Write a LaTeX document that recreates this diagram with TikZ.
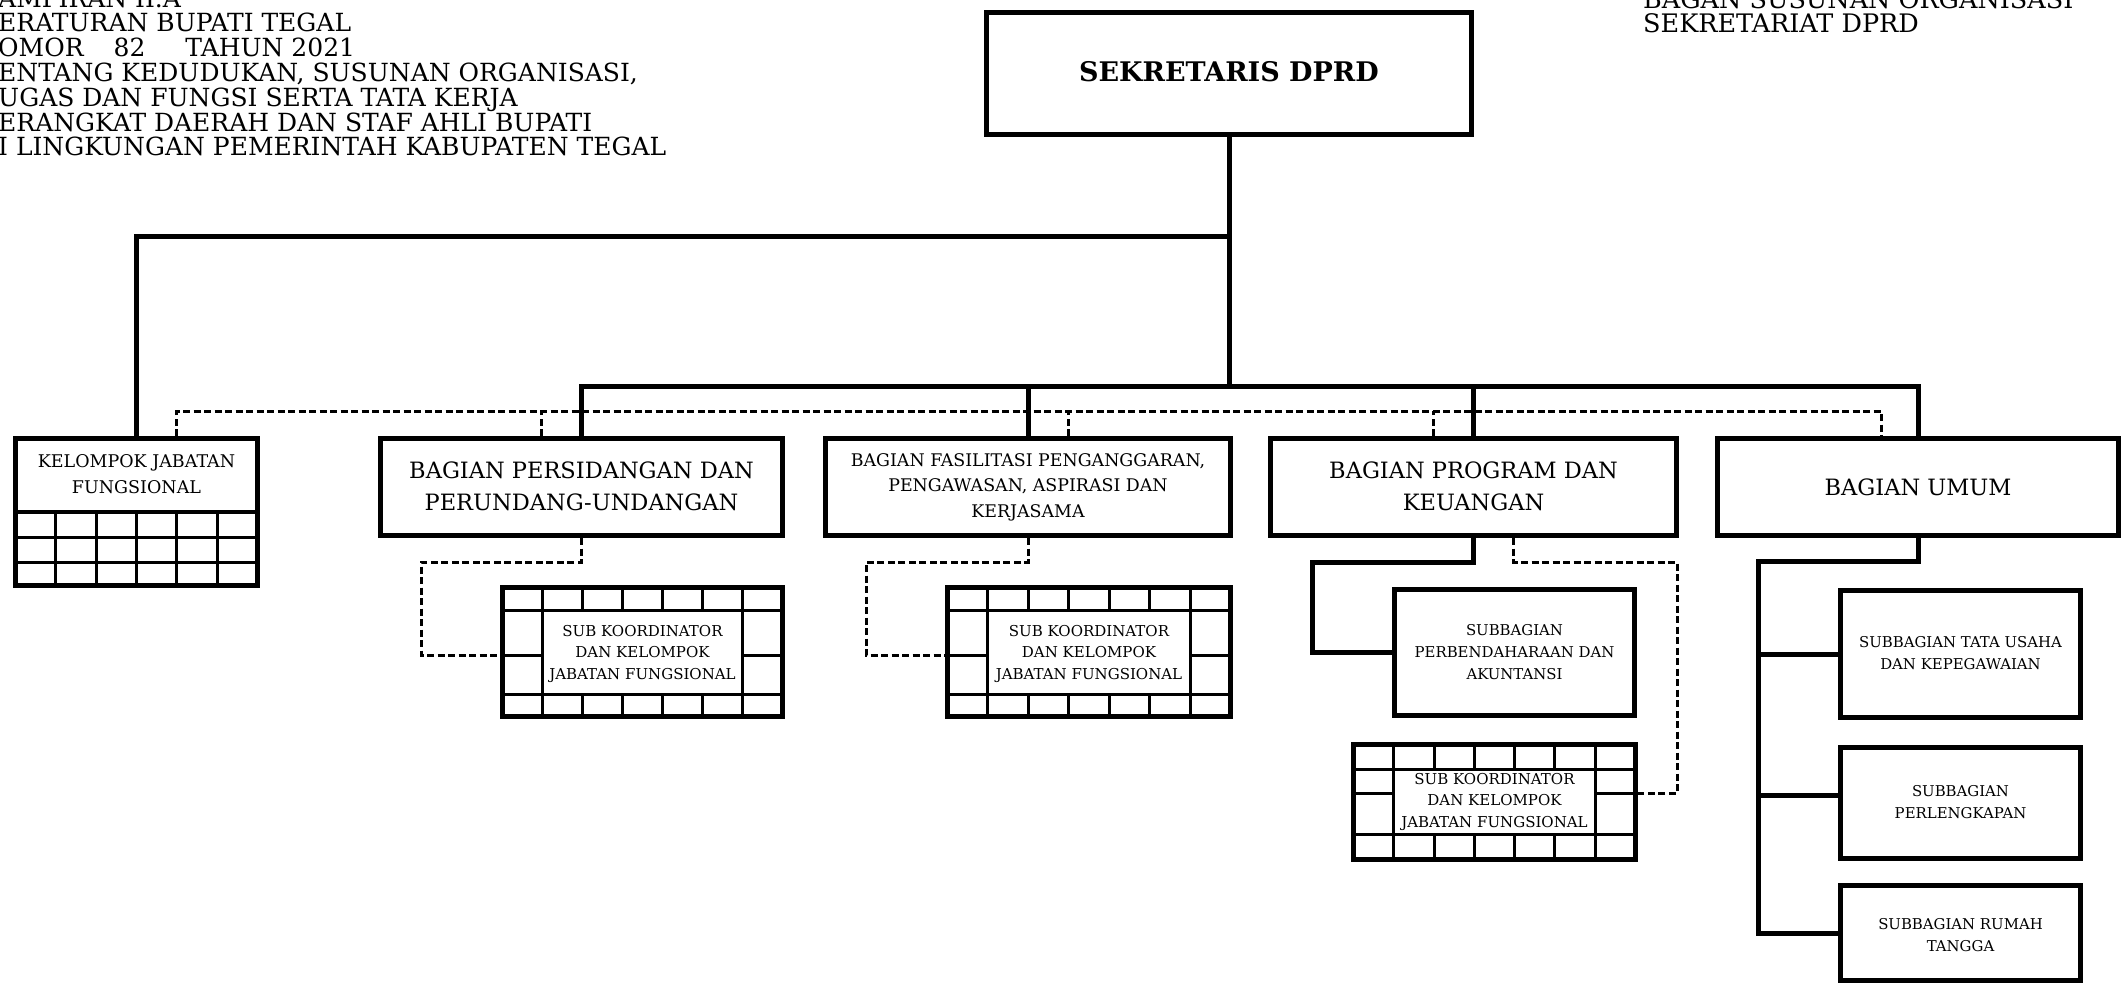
\documentclass[tikz,border=0pt]{standalone}
\usepackage{fontspec}
\setmainfont{DejaVu Serif}
\usetikzlibrary{calc}

% font sizes (1pt = 1 unit of the drawing)
\newcommand\szTitle{\fontsize{25}{24.8}\selectfont}
\newcommand\szHead{\fontsize{27}{28}\selectfont\bfseries}
\newcommand\szBig{\fontsize{22.5}{32}\selectfont}
\newcommand\szFas{\fontsize{17.4}{25.5}\selectfont}
\newcommand\szJf{\fontsize{17.5}{26}\selectfont}
\newcommand\szSk{\fontsize{15}{21.5}\selectfont}
\newcommand\szSub{\fontsize{14.9}{22}\selectfont}

% framed group box with a 7-column grid round a text field
% #1 name, #2 left, #3 top, #4 right, #5 bottom, #6 upper row line, #7 lower row line, #8 side split
\newcommand\koorbox[8]{%
  \node[frame, minimum width={(#4-#2)*1pt}, minimum height={(#5-#3)*1pt}] (#1) at ({(#2+#4)/2},{(#3+#5)/2}) {};
  \draw[gridln] (#2,#6) -- (#4,#6) (#2,#7) -- (#4,#7);
  \foreach \i in {1,...,6} {
    \draw[gridln] ({#2+\i*(#4-#2)/7},#3) -- ({#2+\i*(#4-#2)/7},#6);
    \draw[gridln] ({#2+\i*(#4-#2)/7},#7) -- ({#2+\i*(#4-#2)/7},#5);
  }
  \draw[gridln] ({#2+(#4-#2)/7},#6) -- ({#2+(#4-#2)/7},#7);
  \draw[gridln] ({#2+6*(#4-#2)/7},#6) -- ({#2+6*(#4-#2)/7},#7);
  \draw[gridln] (#2,#8) -- ({#2+(#4-#2)/7},#8);
  \draw[gridln] ({#2+6*(#4-#2)/7},#8) -- (#4,#8);
  \coordinate (#1w) at ({#2-2.5},#8);
  \coordinate (#1e) at ({#4+2.5},#8);
}

\begin{document}
\begin{tikzpicture}[x=1pt,y=-1pt,
  conn/.style={line width=5pt},
  dashline/.style={line width=3pt, dash pattern=on 7pt off 3.5pt},
  frame/.style={draw, line width=5pt, inner sep=0pt, outer sep=2.5pt},
  gridln/.style={line width=3pt},
  lbl/.style={align=center, inner sep=0pt, anchor=base},
  ttl/.style={align=left, inner sep=0pt, anchor=base west, font=\szTitle}]

\fill[white] (0,0) rectangle (2123,985);
\useasboundingbox (0,0) rectangle (2123,985);

% header texts (multi-line nodes are placed by the baseline of their last line)
\node[ttl] (lefttitle) at (-2,155.8) {AMPIRAN II.A\\
ERATURAN BUPATI TEGAL\\
OMOR\hspace{30pt}82\hspace{40pt}TAHUN 2021\\
ENTANG KEDUDUKAN, SUSUNAN ORGANISASI,\\
UGAS DAN FUNGSI SERTA TATA KERJA\\
ERANGKAT DAERAH DAN STAF AHLI BUPATI\\
I LINGKUNGAN PEMERINTAH KABUPATEN TEGAL};
\node[ttl, font=\fontsize{25.5}{24.5}\selectfont] (righttitle) at (1643,32.5) {BAGAN SUSUNAN ORGANISASI\\SEKRETARIAT DPRD};

% head
\node[frame, minimum width=485pt, minimum height=122pt] (sek) at (1229,73.5) {};
\node[lbl, font=\szHead] (sekt) at (1229,81) {SEKRETARIS DPRD};

% functional group
\node[frame, minimum width=242pt, minimum height=147pt] (jf) at (136.5,512) {};
\draw[line width=4pt] (15.5,512) -- (257.5,512);
\foreach \yy in {537,562} \draw[gridln] (15.5,\yy) -- (257.5,\yy);
\foreach \i in {1,...,5} \draw[gridln] ({15.5+\i*242/6},512) -- ({15.5+\i*242/6},585.5);
\node[lbl, font=\szJf] (jft) at (136.5,493) {KELOMPOK JABATAN\\FUNGSIONAL};

% sections
\node[frame, minimum width=402pt, minimum height=97pt] (pers) at (581.5,487) {};
\node[lbl, font=\szBig] (perst) at (581.5,510) {BAGIAN PERSIDANGAN DAN\\PERUNDANG-UNDANGAN};
\node[frame, minimum width=405pt, minimum height=97pt] (fas) at (1028,487) {};
\node[lbl, font=\szFas] (fast) at (1028,517) {BAGIAN FASILITASI PENGANGGARAN,\\PENGAWASAN, ASPIRASI DAN\\KERJASAMA};
\node[frame, minimum width=406pt, minimum height=97pt] (prog) at (1473.5,487) {};
\node[lbl, font=\szBig] (progt) at (1473.5,510) {BAGIAN PROGRAM DAN\\KEUANGAN};
\node[frame, minimum width=401pt, minimum height=97pt] (umum) at (1918,487) {};
\node[lbl, font=\szBig] (umumt) at (1918,495) {BAGIAN UMUM};

% coordinator groups
\koorbox{skA}{502.5}{587.5}{782.5}{716.5}{610}{694}{655}
\node[lbl, font=\szSk] (skAt) at (642.5,679) {SUB KOORDINATOR\\DAN KELOMPOK\\JABATAN FUNGSIONAL};
\koorbox{skB}{947.5}{587.5}{1230.5}{716.5}{610}{694}{655}
\node[lbl, font=\szSk] (skBt) at (1089,679) {SUB KOORDINATOR\\DAN KELOMPOK\\JABATAN FUNGSIONAL};
\koorbox{skC}{1353.5}{744.5}{1635.5}{859.5}{769}{834}{793}
\node[lbl, font=\szSk] (skCt) at (1494.5,827) {SUB KOORDINATOR\\DAN KELOMPOK\\JABATAN FUNGSIONAL};

% subsections
\node[frame, minimum width=240pt, minimum height=126pt] (perb) at (1514.5,652.5) {};
\node[lbl, font=\szSub] (perbt) at (1514.5,679) {SUBBAGIAN\\PERBENDAHARAAN DAN\\AKUNTANSI};
\node[frame, minimum width=240pt, minimum height=127pt] (tu) at (1960.5,654) {};
\node[lbl, font=\szSub] (tut) at (1960.5,669) {SUBBAGIAN TATA USAHA\\DAN KEPEGAWAIAN};
\node[frame, minimum width=240pt, minimum height=111pt] (perl) at (1960.5,803) {};
\node[lbl, font=\szSub] (perlt) at (1960.5,818) {SUBBAGIAN\\PERLENGKAPAN};
\node[frame, minimum width=240pt, minimum height=95pt] (rt) at (1960.5,933) {};
\node[lbl, font=\szSub] (rtt) at (1960.5,951) {SUBBAGIAN RUMAH\\TANGGA};

% command lines
\coordinate (busA) at (1229,236);
\coordinate (busB) at (1229,386);
\draw[conn] (sek.south) -- (busB);
\draw[conn] (busA) -| (jf.north);
\draw[conn] (pers.north) -- (pers.north |- busB) -- (umum.north |- busB) -- (umum.north);
\draw[conn] (fas.north) -- (fas.north |- busB);
\draw[conn] (prog.north) -- (prog.north |- busB);
\draw[conn] (prog.south) |- (1312,562) |- (perb.west);
\coordinate (ubr) at (1758,561);
\draw[conn] (umum.south) |- (ubr) |- (rt.west);
\draw[conn] (ubr) |- (tu.west);
\draw[conn] (ubr) |- ([yshift=8pt]perl.west);

% coordination lines
\coordinate (dbusR) at (1881,411);
\draw[dashline] ([xshift=40pt]jf.north) |- (dbusR) -- ([xshift=-37pt]umum.north);
\draw[dashline] ([xshift=-40pt]pers.north) -- +(0,-25);
\draw[dashline] ([xshift=40pt]fas.north) -- +(0,-25);
\draw[dashline] ([xshift=-40pt]prog.north) -- +(0,-25);
\draw[dashline] (pers.south) |- (421,562) |- (skAw);
\draw[dashline] (fas.south) |- (866,562) |- (skBw);
\draw[dashline] ([xshift=40pt]prog.south) |- (1677,562) |- (skCe);

\end{tikzpicture}
\end{document}
